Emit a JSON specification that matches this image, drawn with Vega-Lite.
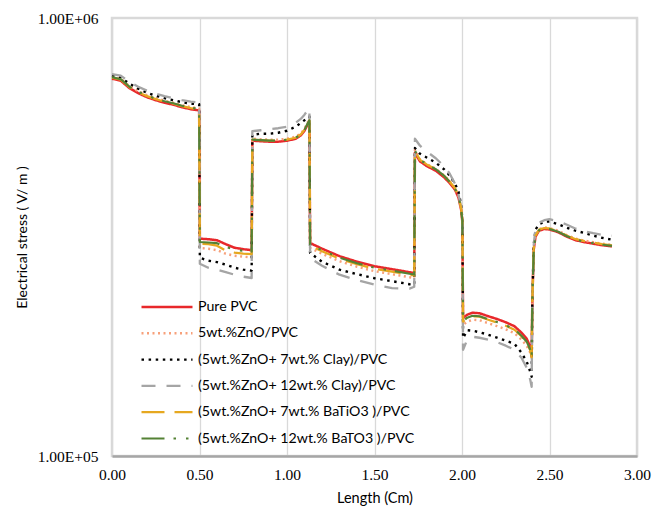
{
  "$schema": "https://vega.github.io/schema/vega-lite/v6.json",
  "width": 525,
  "height": 438,
  "autosize": {"type": "none"},
  "padding": {"left": 112, "top": 18, "right": 25, "bottom": 51},
  "background": "white",
  "config": {
    "view": {"stroke": "#d9d9d9", "strokeWidth": 2.5},
    "axis": {"labelColor": "#000000", "titleColor": "#000000", "titleFontWeight": "normal", "labelFlush": false}
  },
  "datasets": {
    "series": [
      {"key": "pvc", "name": "Pure PVC"},
      {"key": "zno", "name": "5wt.%ZnO/PVC"},
      {"key": "clay7", "name": "(5wt.%ZnO+ 7wt.% Clay)/PVC"},
      {"key": "clay12", "name": "(5wt.%ZnO+ 12wt.% Clay)/PVC"},
      {"key": "bt7", "name": "(5wt.%ZnO+ 7wt.% BaTiO3 )/PVC"},
      {"key": "bt12", "name": "(5wt.%ZnO+ 12wt.% BaTO3 )/PVC"}
    ],
    "stress": [
      {"x": 0, "pvc": 726800, "zno": 734500, "clay7": 738300, "clay12": 744200, "bt7": 730600, "bt12": 732600},
      {"x": 0.05, "pvc": 719200, "zno": 726800, "clay7": 730600, "clay12": 738300, "bt7": 723000, "bt12": 724900},
      {"x": 0.1, "pvc": 691400, "zno": 698700, "clay7": 707900, "clay12": 715400, "bt7": 695100, "bt12": 696800},
      {"x": 0.15, "pvc": 673500, "zno": 680600, "clay7": 689600, "clay12": 696800, "bt7": 677000, "bt12": 678800},
      {"x": 0.2, "pvc": 659500, "zno": 666400, "clay7": 675200, "clay12": 682400, "bt7": 663000, "bt12": 664700},
      {"x": 0.25, "pvc": 649100, "zno": 656000, "clay7": 664700, "clay12": 671700, "bt7": 652600, "bt12": 654300},
      {"x": 0.3, "pvc": 640600, "zno": 647400, "clay7": 656000, "clay12": 663000, "bt7": 644000, "bt12": 645700},
      {"x": 0.35, "pvc": 633900, "zno": 640600, "clay7": 649100, "clay12": 656000, "bt7": 637300, "bt12": 638900},
      {"x": 0.4, "pvc": 625700, "zno": 632300, "clay7": 642300, "clay12": 649100, "bt7": 628900, "bt12": 630600},
      {"x": 0.45, "pvc": 619100, "zno": 625700, "clay7": 637300, "clay12": 644000, "bt7": 622400, "bt12": 624000},
      {"x": 0.498, "pvc": 615200, "zno": 621700, "clay7": 635600, "clay12": 641600, "bt7": 618500, "bt12": 620100},
      {"x": 0.502, "pvc": 313400, "zno": 298500, "clay7": 283600, "clay12": 274800, "bt7": 305300, "bt12": 308000},
      {"x": 0.55, "pvc": 312600, "zno": 297400, "clay7": 279200, "clay12": 269100, "bt7": 304500, "bt12": 307200},
      {"x": 0.6, "pvc": 310900, "zno": 295000, "clay7": 277000, "clay12": 266300, "bt7": 302100, "bt12": 306100},
      {"x": 0.65, "pvc": 304500, "zno": 289600, "clay7": 273400, "clay12": 262800, "bt7": 294300, "bt12": 300500},
      {"x": 0.7, "pvc": 298900, "zno": 286600, "clay7": 269100, "clay12": 259400, "bt7": 291200, "bt12": 295800},
      {"x": 0.75, "pvc": 296600, "zno": 285100, "clay7": 266300, "clay12": 256700, "bt7": 289600, "bt12": 294300},
      {"x": 0.798, "pvc": 295000, "zno": 284100, "clay7": 264900, "clay12": 254900, "bt7": 288900, "bt12": 292700},
      {"x": 0.802, "pvc": 524600, "zno": 530100, "clay7": 541400, "clay12": 551500, "bt7": 527400, "bt12": 527400},
      {"x": 0.85, "pvc": 523200, "zno": 528800, "clay7": 544300, "clay12": 554300, "bt7": 526000, "bt12": 526000},
      {"x": 0.9, "pvc": 521900, "zno": 527400, "clay7": 544300, "clay12": 557300, "bt7": 524600, "bt12": 524600},
      {"x": 0.95, "pvc": 521900, "zno": 527400, "clay7": 547100, "clay12": 560200, "bt7": 524600, "bt12": 524600},
      {"x": 1.0, "pvc": 524600, "zno": 530100, "clay7": 552900, "clay12": 564700, "bt7": 527400, "bt12": 527400},
      {"x": 1.05, "pvc": 530100, "zno": 535700, "clay7": 564700, "clay12": 576700, "bt7": 532900, "bt12": 532900},
      {"x": 1.08, "pvc": 540000, "zno": 545700, "clay7": 576700, "clay12": 589000, "bt7": 542800, "bt12": 542800},
      {"x": 1.1, "pvc": 552900, "zno": 558800, "clay7": 584400, "clay12": 601500, "bt7": 555900, "bt12": 555900},
      {"x": 1.12, "pvc": 573700, "zno": 579700, "clay7": 593600, "clay12": 617500, "bt7": 576700, "bt12": 576700},
      {"x": 1.128, "pvc": 580600, "zno": 586800, "clay7": 596100, "clay12": 623000, "bt7": 583700, "bt12": 583700},
      {"x": 1.132, "pvc": 306400, "zno": 298500, "clay7": 290700, "clay12": 283200, "bt7": 302400, "bt12": 304000},
      {"x": 1.2, "pvc": 297400, "zno": 289600, "clay7": 277700, "clay12": 271900, "bt7": 293500, "bt12": 295000},
      {"x": 1.3, "pvc": 285900, "zno": 278400, "clay7": 266300, "clay12": 259400, "bt7": 282100, "bt12": 283600},
      {"x": 1.4, "pvc": 277700, "zno": 270500, "clay7": 260100, "clay12": 252000, "bt7": 274100, "bt12": 275500},
      {"x": 1.5, "pvc": 271200, "zno": 264200, "clay7": 254600, "clay12": 246100, "bt7": 267700, "bt12": 269100},
      {"x": 1.6, "pvc": 267000, "zno": 260100, "clay7": 250700, "clay12": 241600, "bt7": 263500, "bt12": 264900},
      {"x": 1.7, "pvc": 262800, "zno": 256000, "clay7": 246700, "clay12": 241000, "bt7": 259400, "bt12": 260700},
      {"x": 1.727, "pvc": 261700, "zno": 254900, "clay7": 246100, "clay12": 243500, "bt7": 258300, "bt12": 259600},
      {"x": 1.731, "pvc": 492500, "zno": 500400, "clay7": 504900, "clay12": 530100, "bt7": 496500, "bt12": 497800},
      {"x": 1.76, "pvc": 470500, "zno": 475500, "clay7": 490000, "clay12": 511000, "bt7": 474300, "bt12": 474800},
      {"x": 1.8, "pvc": 458800, "zno": 463700, "clay7": 479800, "clay12": 495100, "bt7": 462500, "bt12": 462500},
      {"x": 1.85, "pvc": 448100, "zno": 452900, "clay7": 467300, "clay12": 478500, "bt7": 451700, "bt12": 451700},
      {"x": 1.9, "pvc": 431900, "zno": 436500, "clay7": 450500, "clay12": 457600, "bt7": 435300, "bt12": 435300},
      {"x": 1.93, "pvc": 419600, "zno": 424000, "clay7": 436500, "clay12": 441100, "bt7": 422900, "bt12": 422900},
      {"x": 1.96, "pvc": 405500, "zno": 409800, "clay7": 418500, "clay12": 418500, "bt7": 408700, "bt12": 407600},
      {"x": 1.98, "pvc": 388800, "zno": 392900, "clay7": 401300, "clay12": 395000, "bt7": 391900, "bt12": 390900},
      {"x": 1.995, "pvc": 365000, "zno": 368900, "clay7": 374700, "clay12": 370800, "bt7": 367900, "bt12": 366900},
      {"x": 2.002, "pvc": 342700, "zno": 346300, "clay7": 346300, "clay12": 355500, "bt7": 345400, "bt12": 344500},
      {"x": 2.006, "pvc": 206500, "zno": 199100, "clay7": 185900, "clay12": 174800, "bt7": 202800, "bt12": 203300},
      {"x": 2.03, "pvc": 210200, "zno": 202600, "clay7": 193700, "clay12": 184300, "bt7": 206300, "bt12": 206900},
      {"x": 2.06, "pvc": 212400, "zno": 204700, "clay7": 193200, "clay12": 187200, "bt7": 208500, "bt12": 209000},
      {"x": 2.1, "pvc": 211800, "zno": 204200, "clay7": 191700, "clay12": 186200, "bt7": 208000, "bt12": 208500},
      {"x": 2.15, "pvc": 208500, "zno": 201000, "clay7": 189200, "clay12": 184300, "bt7": 204700, "bt12": 205300},
      {"x": 2.2, "pvc": 205500, "zno": 198000, "clay7": 186200, "clay12": 181900, "bt7": 201700, "bt12": 202200},
      {"x": 2.25, "pvc": 202000, "zno": 194700, "clay7": 183300, "clay12": 178600, "bt7": 198300, "bt12": 198900},
      {"x": 2.3, "pvc": 197800, "zno": 190700, "clay7": 180400, "clay12": 174800, "bt7": 194200, "bt12": 194700},
      {"x": 2.34, "pvc": 191200, "zno": 184300, "clay7": 172100, "clay12": 167600, "bt7": 187700, "bt12": 188200},
      {"x": 2.37, "pvc": 185200, "zno": 178600, "clay7": 164100, "clay12": 159000, "bt7": 181900, "bt12": 182400},
      {"x": 2.39, "pvc": 177600, "zno": 172100, "clay7": 155700, "clay12": 149300, "bt7": 174300, "bt12": 174800},
      {"x": 2.398, "pvc": 168800, "zno": 167600, "clay7": 151700, "clay12": 143900, "bt7": 168100, "bt12": 168500},
      {"x": 2.402, "pvc": 227400, "zno": 227400, "clay7": 227400, "clay12": 227400, "bt7": 227400, "bt12": 227400},
      {"x": 2.41, "pvc": 295800, "zno": 297400, "clay7": 303700, "clay12": 303700, "bt7": 297400, "bt12": 295800},
      {"x": 2.42, "pvc": 316700, "zno": 319200, "clay7": 328600, "clay12": 330300, "bt7": 318400, "bt12": 317500},
      {"x": 2.44, "pvc": 326800, "zno": 329400, "clay7": 338200, "clay12": 340900, "bt7": 328600, "bt12": 327700},
      {"x": 2.47, "pvc": 329800, "zno": 332400, "clay7": 342700, "clay12": 345400, "bt7": 331500, "bt12": 330700},
      {"x": 2.5, "pvc": 328900, "zno": 331500, "clay7": 343200, "clay12": 347200, "bt7": 330700, "bt12": 329800},
      {"x": 2.55, "pvc": 324300, "zno": 326800, "clay7": 338200, "clay12": 343600, "bt7": 326000, "bt12": 325100},
      {"x": 2.6, "pvc": 316700, "zno": 319200, "clay7": 332000, "clay12": 337300, "bt7": 318400, "bt12": 317500},
      {"x": 2.65, "pvc": 310900, "zno": 313400, "clay7": 326800, "clay12": 330300, "bt7": 312600, "bt12": 311700},
      {"x": 2.7, "pvc": 307700, "zno": 310100, "clay7": 322900, "clay12": 325600, "bt7": 309300, "bt12": 308500},
      {"x": 2.75, "pvc": 305300, "zno": 307700, "clay7": 318400, "clay12": 322600, "bt7": 306900, "bt12": 306100},
      {"x": 2.8, "pvc": 302900, "zno": 305300, "clay7": 315000, "clay12": 320000, "bt7": 304500, "bt12": 303700},
      {"x": 2.857, "pvc": 301000, "zno": 303300, "clay7": 311700, "clay12": 318400, "bt7": 302500, "bt12": 301800}
    ]
  },
  "data": {"name": "stress"},
  "transform": [
    {"fold": ["pvc", "zno", "clay7", "clay12", "bt7", "bt12"], "as": ["key", "v"]},
    {"lookup": "key", "from": {"data": {"name": "series"}, "key": "key", "fields": ["name"]}}
  ],
  "mark": {"type": "line", "strokeCap": "butt", "strokeJoin": "round"},
  "encoding": {
    "x": {
      "field": "x",
      "type": "quantitative",
      "scale": {"domain": [0, 3], "nice": false, "zero": false},
      "axis": {
        "title": "Length (Cm)",
        "values": [0, 0.5, 1, 1.5, 2, 2.5, 3],
        "format": ".2f",
        "labelFont": "Liberation Serif",
        "labelFontSize": 15.5,
        "labelPadding": 11,
        "ticks": false,
        "grid": true,
        "gridColor": "#d9d9d9",
        "gridWidth": 1.3,
        "domainColor": "#a6a6a6",
        "domainWidth": 2.5,
        "titleFont": "Lato",
        "titleFontSize": 14.5,
        "titlePadding": 9
      }
    },
    "y": {
      "field": "v",
      "type": "quantitative",
      "scale": {"type": "log", "domain": [100000, 1000000], "nice": false},
      "axis": {
        "title": "Electrical stress ( V/ m )",
        "values": [100000, 1000000],
        "labelExpr": "datum.value >= 999999 ? '1.00E+06' : '1.00E+05'",
        "labelFont": "Liberation Serif",
        "labelFontSize": 15.5,
        "labelPadding": 14,
        "ticks": false,
        "grid": false,
        "domain": false,
        "titleFont": "Lato",
        "titleFontSize": 14,
        "titlePadding": 8
      }
    },
    "color": {
      "field": "name",
      "type": "nominal",
      "scale": {
        "domain": ["Pure PVC", "5wt.%ZnO/PVC", "(5wt.%ZnO+ 7wt.% Clay)/PVC", "(5wt.%ZnO+ 12wt.% Clay)/PVC", "(5wt.%ZnO+ 7wt.% BaTiO3 )/PVC", "(5wt.%ZnO+ 12wt.% BaTO3 )/PVC"],
        "range": ["#e8282b", "#f7a07a", "#000000", "#a5a5a5", "#e6a820", "#548235"]
      },
      "legend": {
        "title": null,
        "orient": "none",
        "legendX": 28,
        "legendY": 276,
        "padding": 0,
        "symbolType": "stroke",
        "symbolSize": 2601,
        "clipHeight": 26,
        "rowPadding": 0.3,
        "labelFont": "Lato",
        "labelFontSize": 14.2,
        "labelColor": "#000000",
        "labelOffset": 4,
        "labelLimit": 400
      }
    },
    "strokeDash": {
      "field": "name",
      "type": "nominal",
      "scale": {
        "domain": ["Pure PVC", "5wt.%ZnO/PVC", "(5wt.%ZnO+ 7wt.% Clay)/PVC", "(5wt.%ZnO+ 12wt.% Clay)/PVC", "(5wt.%ZnO+ 7wt.% BaTiO3 )/PVC", "(5wt.%ZnO+ 12wt.% BaTO3 )/PVC"],
        "range": [[1, 0], [2, 3.5], [2.5, 4.6], [14, 11], [23, 10], [23, 9, 2.5, 10, 2.5, 9]]
      }
    },
    "strokeWidth": {
      "field": "name",
      "type": "nominal",
      "scale": {
        "domain": ["Pure PVC", "5wt.%ZnO/PVC", "(5wt.%ZnO+ 7wt.% Clay)/PVC", "(5wt.%ZnO+ 12wt.% Clay)/PVC", "(5wt.%ZnO+ 7wt.% BaTiO3 )/PVC", "(5wt.%ZnO+ 12wt.% BaTO3 )/PVC"],
        "range": [2.5, 2.2, 2.6, 4.8, 3, 3]
      }
    }
  }
}
